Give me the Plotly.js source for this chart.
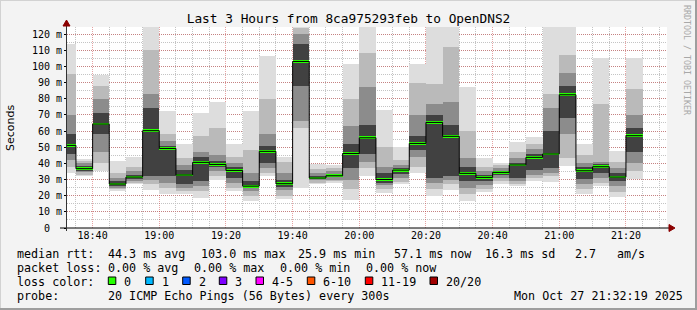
<!DOCTYPE html>
<html>
<head>
<meta charset="utf-8">
<script src="https://cdn.plot.ly/plotly-3.0.1.min.js"></script>
<style>
  html, body { margin: 0; padding: 0; background: #f3f3f3; }
  #chart { width: 697px; height: 310px; }
</style>
</head>
<body>
<div id="chart"></div>
<script>
// ---------------- data ----------------
const day = "2025-10-27";
const barEnd = ["18:35","18:40","18:45","18:50","18:55","19:00","19:05","19:10","19:15","19:20",
                "19:25","19:30","19:35","19:40","19:45","19:50","19:55","20:00","20:05","20:10",
                "20:15","20:20","20:25","20:30","20:35","20:40","20:45","20:50","20:55","21:00",
                "21:05","21:10","21:15","21:20","21:25"];
// median rtt per 5-minute step (ms)
const median = [51.1,36.7,64.3,27.2,31.5,60.2,49.2,32.8,40.6,39.3,
                35.6,25.9,47.4,27.4,103.0,30.9,32.3,46.1,55.8,30.0,
                35.8,52.3,65.3,56.7,33.8,31.3,34.4,39.0,43.7,45.8,
                82.4,35.4,37.9,31.5,57.1];
// smoke: spread of the 20 sorted pings (ms), outer to inner
const pingMin = [34,32,35,22.6,27.2,23.7,21.2,21,18.3,29.9,
                 22.6,17,32,18,24.7,27,27.8,17.5,32,21.6,
                 27,34,19.5,23.7,16.5,22,27.2,25.7,28.8,28.4,
                 38.1,21.2,25.7,19,30.5];
const pingLo3 = [38,33,40,24,28,27,25,23,23,32,
                 25,20,34,20,62,28,29,24,37,24,
                 28.5,38,24,27,21,24,29,27,31,32,
                 43,24,28,22,35];
const pingLo2 = [42,34.5,47,25,29,30,28,25,26,35,
                 28,23,37,23.5,66,29.5,30,30,41,26.5,
                 31,44,28,30,25,26.5,31,29,33,34,
                 58,27,31,26,40];
const pingLo1 = [46,35.5,58,26,30.5,32,32,27,29,37.5,
                 31,24.5,40,25.5,88,30.3,31.3,37,46,28,
                 33.5,48,31,32,29,29,32.5,31,36,37,
                 68,30.5,34,29,47];
const pingHi1 = [58,38.5,71,29,33,74,51,36,44,41.5,
                 38,29,51,30,114,32,33.5,52,64,34,
                 37,57,70,64,38,33,35.5,40.5,46,60,
                 88,37.5,39.5,34,62];
const pingHi2 = [70,40,80,31,35,83,54,39,47,45,
                 40,34,58,34,120,34,35,63,87,38,
                 39,70,77,78,43,35,37,43,49,74,
                 96,40,41,37,70];
const pingHi3 = [95,41.5,88,34,38,110,58,43,57,62,
                 44,48,80,41,124,36.5,37,80,108,50,
                 42,90,89,112,60,38,39,47,52,83,
                 107,45,77,41,86];
const pingMax = [114,42.6,94.4,41.2,44.1,130,72.5,52,71.3,78.1,
                 52,72.5,106.6,43.9,130,39.8,38.7,101.6,130,73,
                 50,101.6,130,130,87,43.3,40.2,53.4,56.3,128,
                 130,52,105,47.4,105];
// lost pings per step (out of 20)
const lossCount = [0,0,0,0,0,0,0,0,0,0,0,0,0,0,0,0,0,0,0,0,0,0,0,0,0,0,0,0,0,0,0,0,0,0,0];

const yTickVals = [0,10,20,30,40,50,60,70,80,90,100,110,120];
const yTickText = ["0\u00a0\u00a0","10 m","20 m","30 m","40 m","50 m","60 m","70 m","80 m","90 m","100 m","110 m","120 m"];

const lossLabels = ["0","1","2","3","4-5","6-10","11-19","20/20"];
const lossColors = ["#26ff00","#00b8ff","#0059ff","#7e00ff","#ff00ff","#ff5500","#ff0000","#a10000"];

const statLines = [
  ["median rtt:", "44.3 ms avg", "103.0 ms max", "25.9 ms min", "57.1 ms now", "16.3 ms sd", "2.7", "am/s"],
  ["packet loss:", "0.00 % avg", "0.00 % max", "0.00 % min", "0.00 % now"],
  ["probe:", "20 ICMP Echo Pings (56 Bytes) every 300s", "Mon Oct 27 21:32:19 2025"]
];

// ---------------- helpers ----------------
const STEP = 300000;
function endMs(hm) { return new Date(day + "T" + hm + ":00Z").getTime(); }
function iso(ms) { return new Date(ms).toISOString().replace("T", " ").replace("Z", "").slice(0, 19); }
const centers = barEnd.map(t => iso(endMs(t) - STEP / 2));
const starts = barEnd.map(t => iso(endMs(t) - STEP));

// plot box in pixels
const L = 67, R = 667, T = 27, B = 228;
const PX = x => (x - L) / (R - L);
const PY = y => (B - y) / (B - T);

function lossColor(n) {
  if (n === 0) return lossColors[0];
  if (n === 1) return lossColors[1];
  if (n === 2) return lossColors[2];
  if (n === 3) return lossColors[3];
  if (n <= 5) return lossColors[4];
  if (n <= 10) return lossColors[5];
  if (n <= 19) return lossColors[6];
  return lossColors[7];
}

function band(lo, hi, color) {
  return {
    type: "bar", x: centers, base: lo, y: hi.map((h, i) => h - lo[i]),
    width: STEP, marker: { color: color, line: { width: 0 } },
    hoverinfo: "skip", showlegend: false
  };
}

const traces = [
  band(pingMin, pingMax, "#dddddd"),
  band(pingLo3, pingHi3, "#bababa"),
  band(pingLo2, pingHi2, "#8c8c8c"),
  band(pingLo1, pingHi1, "#414141"),
  {
    type: "scatter", mode: "lines",
    x: starts.concat([iso(endMs(barEnd[barEnd.length - 1]))]),
    y: median.concat([median[median.length - 1]]),
    line: { shape: "hv", color: "#000000", width: 1 },
    hoverinfo: "skip", showlegend: false
  },
  {
    type: "bar", x: centers, base: median.map(m => m - 0.85), y: median.map(() => 1.7),
    width: STEP, marker: { color: lossCount.map(lossColor), line: { width: 0 } },
    hoverinfo: "skip", showlegend: false
  }
];

// ---------------- annotations ----------------
const mono = "DejaVu Sans Mono";
const annotations = [];
function txt(text, x, y, size, extra) {
  annotations.push(Object.assign({
    text: text, xref: "paper", yref: "paper", x: PX(x), y: PY(y),
    xanchor: "left", yanchor: "middle", showarrow: false, borderpad: 0,
    font: { family: mono, size: size, color: "#000" }
  }, extra || {}));
}
const legendSize = 11.7;
const line1X = [16, 107.3, 200, 296.7, 393.3, 484, 574, 616];
statLines[0].forEach((s, i) => txt(s, line1X[i], 254.3, legendSize));
const line2X = [16, 107.3, 193.3, 279.3, 365];
statLines[1].forEach((s, i) => txt(s, line2X[i], 268.3, legendSize));
txt("loss color:", 16, 281.7, legendSize);
const sqX = [108.3, 145.7, 182.7, 219.3, 256, 307.3, 365.3, 430];
const lblX = [123.3, 160.7, 197.7, 234, 270.7, 322.3, 380, 445];
lossLabels.forEach((s, i) => txt(s, lblX[i], 281.7, legendSize));
const line4X = [16, 107.3, 512.7];
statLines[2].forEach((s, i) => txt(s, line4X[i], 296, legendSize));

// Seconds
annotations.push({
  text: "Seconds", xref: "paper", yref: "paper", x: PX(10), y: PY(128),
  xanchor: "center", yanchor: "middle", textangle: -90, showarrow: false,
  font: { family: "DejaVu Sans", size: 11, color: "#000" }
});
// vertical credit
annotations.push({
  text: "RRDTOOL / TOBI OETIKER", xref: "paper", yref: "paper", x: PX(687), y: PY(60),
  xanchor: "center", yanchor: "middle", textangle: 90, showarrow: false,
  font: { family: mono, size: 8.3, color: "#a8a8a8" }
});

// ---------------- shapes ----------------
const shapes = [];
lossColors.forEach((c, i) => shapes.push({
  type: "rect", xref: "paper", yref: "paper",
  x0: PX(sqX[i]), x1: PX(sqX[i] + 7.5), y0: PY(284.5), y1: PY(277),
  fillcolor: c, line: { color: "#000", width: 1 }
}));
// axes lines
shapes.push({ type: "line", xref: "paper", yref: "paper", x0: PX(60), x1: PX(670), y0: PY(228), y1: PY(228), line: { color: "#000", width: 1 } });
shapes.push({ type: "line", xref: "paper", yref: "paper", x0: PX(66.5), x1: PX(66.5), y0: PY(231), y1: PY(24), line: { color: "#333", width: 1 } });
// arrows
function path(pts) { return "M" + pts.map(p => PX(p[0]) + "," + PY(p[1])).join(" L") + " Z"; }
shapes.push({ type: "path", xref: "paper", yref: "paper", path: path([[669, 224.5], [675, 228], [669, 231.5]]), fillcolor: "#8b0000", line: { color: "#8b0000", width: 1 } });
shapes.push({ type: "path", xref: "paper", yref: "paper", path: path([[63, 26], [66.5, 20], [70, 26]]), fillcolor: "#8b0000", line: { color: "#8b0000", width: 1 } });
// frame
shapes.push({ type: "line", xref: "paper", yref: "paper", x0: PX(0), x1: PX(697), y0: PY(0.5), y1: PY(0.5), line: { color: "#d2d2d2", width: 1 } });
shapes.push({ type: "line", xref: "paper", yref: "paper", x0: PX(0.5), x1: PX(0.5), y0: PY(0), y1: PY(310), line: { color: "#d2d2d2", width: 1 } });
shapes.push({ type: "line", xref: "paper", yref: "paper", x0: PX(0), x1: PX(697), y0: PY(309), y1: PY(309), line: { color: "#9e9e9e", width: 2 } });
shapes.push({ type: "line", xref: "paper", yref: "paper", x0: PX(696), x1: PX(696), y0: PY(0), y1: PY(310), line: { color: "#9e9e9e", width: 2 } });

const layout = {
  width: 697, height: 310,
  margin: { l: L, r: 697 - R, t: T, b: 310 - B, pad: 0 },
  paper_bgcolor: "#f3f3f3", plot_bgcolor: "#ffffff",
  barmode: "overlay", bargap: 0,
  showlegend: false,
  title: {
    text: "Last 3 Hours from 8ca975293feb to OpenDNS2",
    xref: "container", x: 0.5, xanchor: "center",
    yref: "container", y: 1 - 19 / 310, yanchor: "middle",
    font: { family: mono, size: 12.8, color: "#000" }
  },
  xaxis: {
    type: "date",
    range: [day + " 18:32:19", day + " 21:32:19"],
    tick0: day + " 18:40:00", dtick: 1200000, tickformat: "%H:%M",
    showgrid: true, gridcolor: "rgba(200,50,50,0.45)", griddash: "1px,1px", gridwidth: 1,
    minor: { dtick: 300000, tick0: day + " 18:40:00", showgrid: true, gridcolor: "#c4c4c4", griddash: "1px,1px", gridwidth: 1 },
    zeroline: false, showline: false, ticks: "",
    tickfont: { family: mono, size: 10, color: "#000" },
    fixedrange: true
  },
  yaxis: {
    range: [0, (B - T) / 1.6167],
    tickvals: yTickVals, ticktext: yTickText,
    showgrid: true, gridcolor: "rgba(200,50,50,0.45)", griddash: "1px,1px", gridwidth: 1,
    minor: { dtick: 5, tick0: 0, showgrid: true, gridcolor: "#c4c4c4", griddash: "1px,1px", gridwidth: 1 },
    zeroline: false, showline: false, ticks: "outside", ticklen: 2, tickcolor: "#000",
    tickfont: { family: mono, size: 10, color: "#000" },
    fixedrange: true
  },
  annotations: annotations,
  shapes: shapes
};

Plotly.newPlot("chart", traces, layout, { staticPlot: true, displayModeBar: false });
</script>
</body>
</html>
